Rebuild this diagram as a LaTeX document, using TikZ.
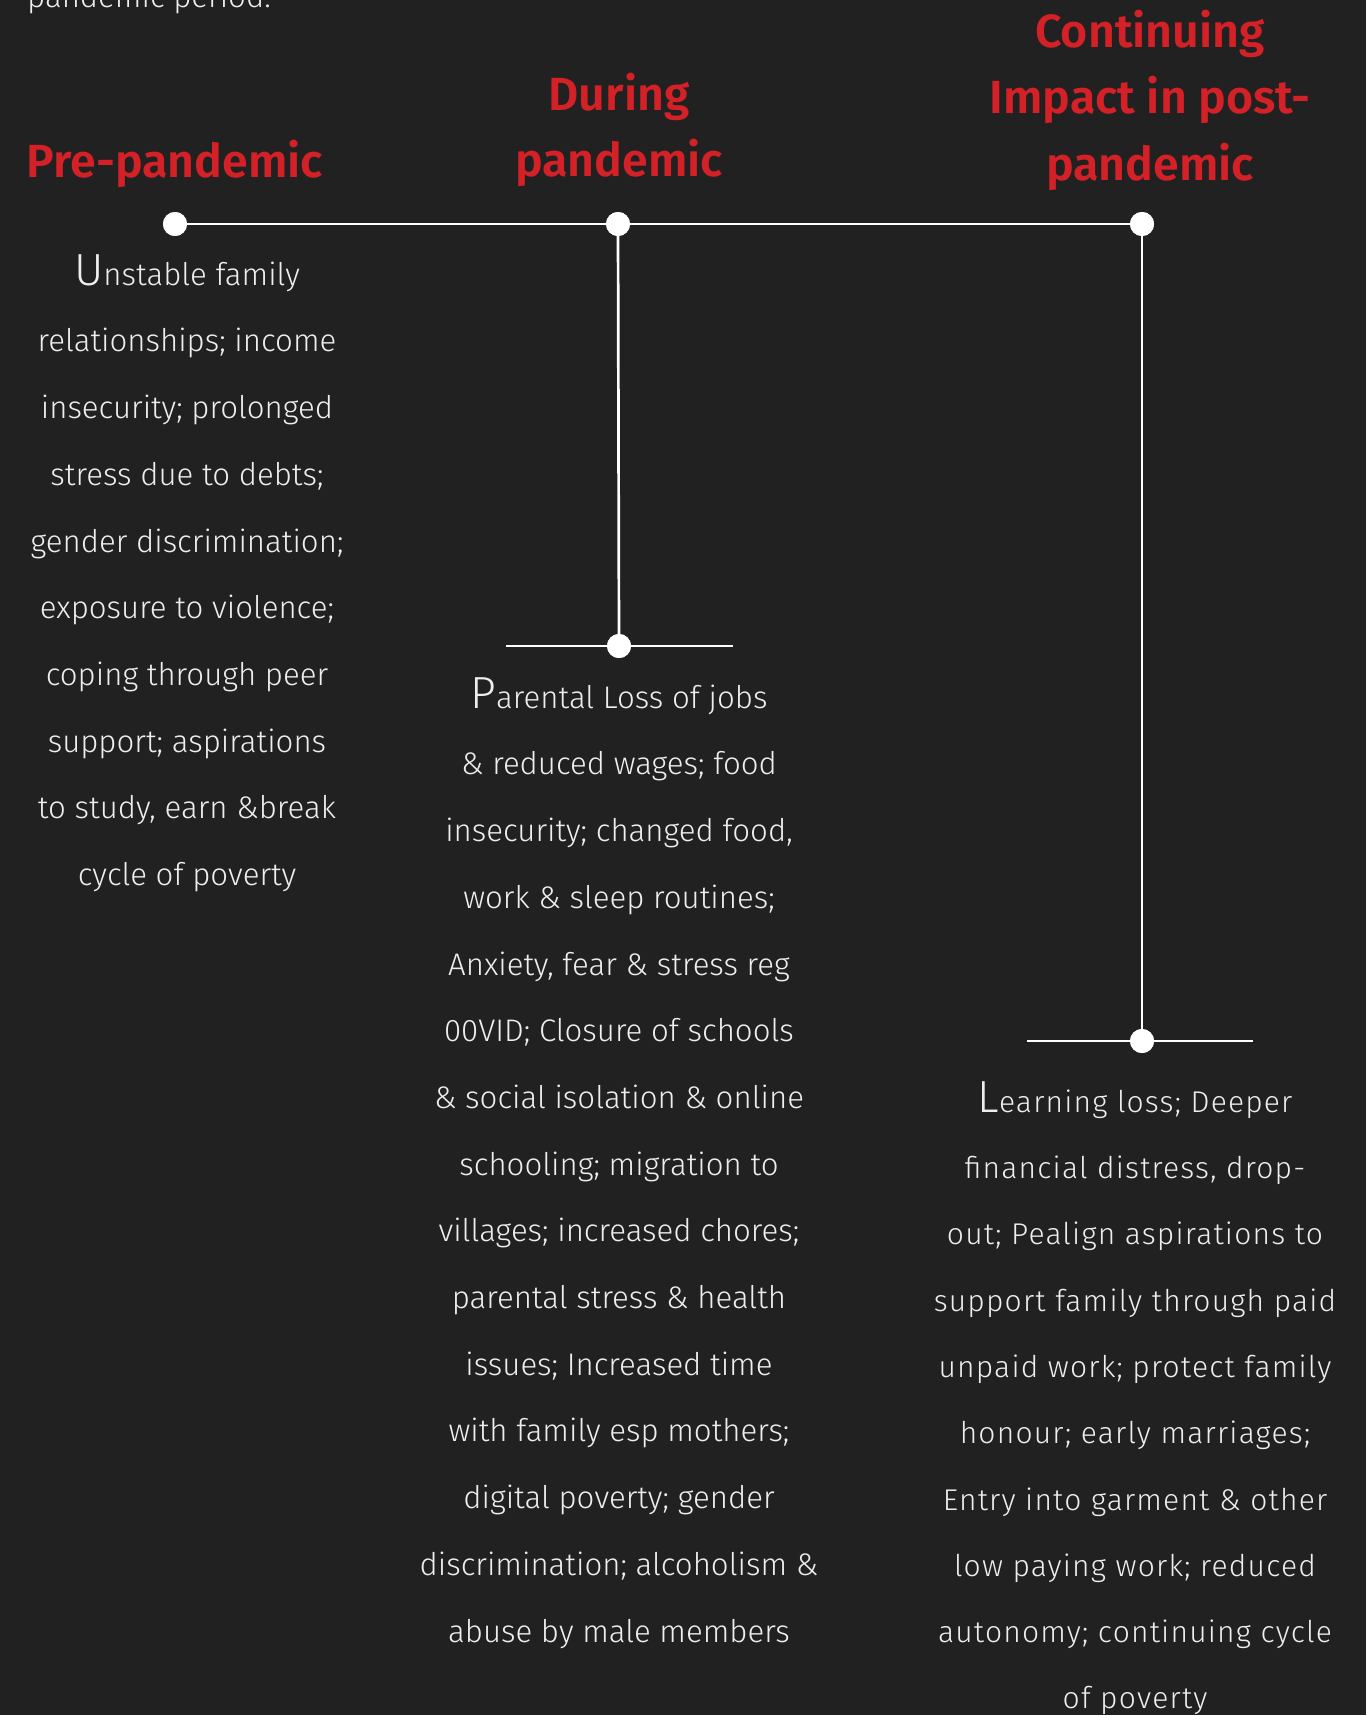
\documentclass[tikz,border=0pt]{standalone}
\usepackage{fontspec}
\setmainfont{Fira Sans Light}
\newfontfamily\headfont{Fira Sans SemiBold}
\newfontfamily\rightfont{Fira Sans Light}[LetterSpace=4]
\definecolor{bg}{RGB}{33,33,33}
\definecolor{headred}{RGB}{212,32,39}
\definecolor{txt}{RGB}{238,238,238}
\newcommand{\tallstrut}{\rule{0pt}{50pt}}
\newcommand{\dropcap}[1]{{\fontsize{45}{45}\selectfont #1}}
\begin{document}
\begin{tikzpicture}[x=1pt,y=-1pt,
  dot/.style={circle,fill=white,inner sep=0pt,minimum size=24pt},
  conn/.style={draw=white,line width=2.7pt},
  head/.style={text=headred,font=\headfont\fontsize{46.5}{66.5}\selectfont,align=center,inner sep=0pt,anchor=north},
  body/.style={text=txt,font=\fontsize{31.2}{66.7}\selectfont,align=center,inner sep=0pt,anchor=north},
  rbody/.style={text=txt,font=\rightfont\fontsize{30}{66.3}\selectfont,align=center,inner sep=0pt,anchor=north}]
\fill[bg] (0,0) rectangle (1366,1715);
\useasboundingbox (0,0) rectangle (1366,1715);
\clip (0,0) rectangle (1366,1715);
% top cut text
\node[text=txt,font=\fontsize{31.2}{36}\selectfont,anchor=base west,inner sep=0pt] (intro) at (27,8) {pandemic period.};
% headings
\node[head] (hpre) at (175,127) {\tallstrut Pre-pandemic};
\node[head] (hdur) at (619,60) {\tallstrut During\\pandemic};
\node[head] (hpost) at (1150,-3) {\tallstrut Continuing\\Impact in post-\\pandemic};
% timeline
\node[dot] (pre) at (175,224) {};
\node[dot] (dur) at (618,224) {};
\node[dot] (post) at (1142,224) {};
\node[dot] (durb) at (619,646) {};
\node[dot] (postb) at (1142,1041) {};
\coordinate (durL) at (506,646);
\coordinate (durR) at (733,646);
\coordinate (postL) at (1027,1041);
\coordinate (postR) at (1253,1041);
\draw[conn] (pre.center) -- (dur.center) -- (post.center);
\draw[conn] (dur.center) -- (durb.center);
\draw[conn] (post.center) -- (postb.center);
\draw[conn] (durL) -- (durR);
\draw[conn] (postL) -- (postR);
\node[dot] at (pre) {};
\node[dot] at (dur) {};
\node[dot] at (post) {};
\node[dot] at (durb) {};
\node[dot] at (postb) {};
% text blocks
\node[body] (tpre) at (187,235) {\tallstrut\dropcap{U}nstable family\\
relationships; income\\
insecurity; prolonged\\
stress due to debts;\\
gender discrimination;\\
exposure to violence;\\
coping through peer\\
support; aspirations\\
to study, earn \&break\\
cycle of poverty};
\node[body] (tdur) at (619,658) {\tallstrut\dropcap{P}arental Loss of jobs\\
\& reduced wages; food\\
insecurity; changed food,\\
work \& sleep routines;\\
Anxiety, fear \& stress reg\\
00VID; Closure of schools\\
\& social isolation \& online\\
schooling; migration to\\
villages; increased chores;\\
parental stress \& health\\
issues; Increased time\\
with family esp mothers;\\
digital poverty; gender\\
discrimination; alcoholism \&\\
abuse by male members};
\node[rbody] (tpost) at (1135,1062) {\tallstrut\dropcap{L}earning loss; Deeper\\
financial distress, drop-\\
out; Pealign aspirations to\\
support family through paid\\
unpaid work; protect family\\
honour; early marriages;\\
Entry into garment \& other\\
low paying work; reduced\\
autonomy; continuing cycle\\
of poverty};
\end{tikzpicture}
\end{document}
